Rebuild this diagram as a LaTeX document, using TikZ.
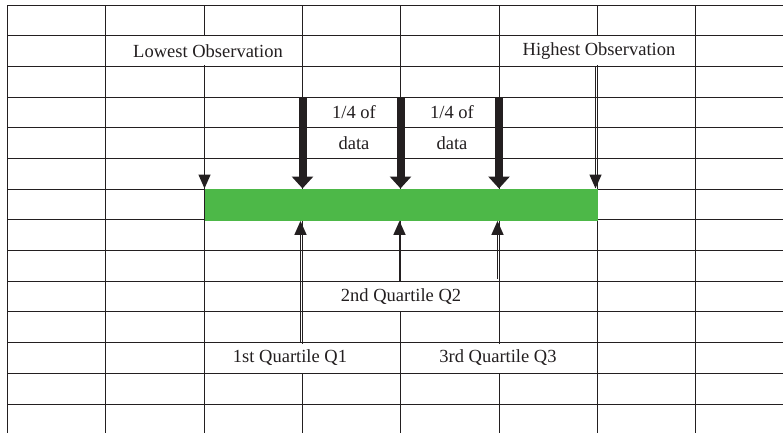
\documentclass[tikz,border=0pt]{standalone}
\usepackage{fontspec}
\setmainfont{Liberation Serif}
\usetikzlibrary{arrows.meta}
\definecolor{bargreen}{RGB}{77,184,72}
\definecolor{ink}{RGB}{35,31,32}
\tikzset{
  gridline/.style={line width=1pt, draw=ink},
  lbl/.style={font=\fontsize{18.5}{20}\selectfont, text=ink, inner sep=0pt},
  lblbox/.style={lbl, fill=white, minimum height=29pt},
  thinarrow/.style={draw=ink, line width=1.4pt, -{Triangle[width=12pt,length=14pt]}},
  thickarrow/.style={draw=ink, line width=8pt, -{Triangle[width=21pt,length=12pt]}},
}
\begin{document}
\begin{tikzpicture}[x=1pt,y=-1pt]
\useasboundingbox (0,0) rectangle (783,433);
\fill[white] (0,0) rectangle (783,433);
% grid
\foreach \x in {7.5,105.5,204.5,302.5,400.5,499.5,597.5,695.5} {
  \draw[gridline] (\x,5.5) -- (\x,433);
}
\foreach \y in {5.5,35.5,66.5,97.5,127.5,158.5,189.5,219.5,250.5,281.5,311.5,342.5,373.5,404.5} {
  \draw[gridline] (7.5,\y) -- (783,\y);
}
% labels
\node[lblbox, minimum width=160pt] (low) at (208,51) {Lowest Observation};
\node[lblbox, minimum width=160pt] (high) at (599,51) {Highest Observation};
\node[lblbox, minimum width=144pt] (q2l) at (401,296.5) {2nd Quartile Q2};
\node[lblbox, minimum width=136pt] (q1l) at (290,358) {1st Quartile Q1};
\node[lblbox, minimum width=138pt] (q3l) at (498,358) {3rd Quartile Q3};
\node[lbl] (f1) at (354,112.5) {1/4 of};
\node[lbl] (d1) at (354,143) {data};
\node[lbl] (f2) at (452,112.5) {1/4 of};
\node[lbl] (d2) at (452,143) {data};
% bar
\node[fill=bargreen, minimum width=393pt, minimum height=32pt, inner sep=0pt, anchor=north west] (bar) at (204.5,188.5) {};
% coordinates
\coordinate (lo) at (204.5,66.5);
\coordinate (hi) at (595.5,66.5);
\coordinate (t1) at (302.5,97.5);
\coordinate (t2) at (400.5,97.5);
\coordinate (t3) at (499,97.5);
\coordinate (b1) at (300.5,342.5);
\coordinate (b2) at (399.5,281.5);
\coordinate (b3) at (497.5,279);
% arrows
\draw[thinarrow] (lo) -- (lo |- bar.north);
\draw[thinarrow] (hi) -- (hi |- bar.north);
\draw[thickarrow] (t1) -- (t1 |- bar.north);
\draw[thickarrow] (t2) -- (t2 |- bar.north);
\draw[thickarrow] (t3) -- (t3 |- bar.north);
\draw[thinarrow] (b1) -- (b1 |- bar.south);
\draw[thinarrow] (b2) -- (b2 |- bar.south);
\draw[thinarrow] (b3) -- (b3 |- bar.south);
\end{tikzpicture}
\end{document}
